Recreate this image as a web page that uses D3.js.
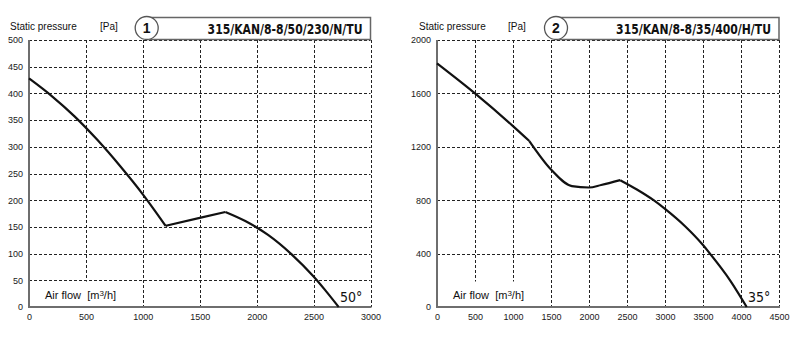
<!DOCTYPE html>
<html><head><meta charset="utf-8">
<script src="https://cdn.jsdelivr.net/npm/d3@7"></script>
<style>html,body{margin:0;padding:0;background:#fff}svg{display:block}</style>
</head><body>
<svg id="chart" width="800" height="339"></svg>
<script>
// ---------- data ----------
const flow1 = [0, 200, 400, 600, 800, 1000, 1100, 1200, 1500, 1725, 1900, 2100, 2300, 2500, 2600, 2720];
const pressure1 = [428, 395, 357, 313, 264, 211, 182, 152, 167, 178, 161, 135, 100, 57, 32, 0];
const kinks1 = [1200, 1725];
const xTicks1 = [0, 500, 1000, 1500, 2000, 2500, 3000];
const yTicks1 = [0, 50, 100, 150, 200, 250, 300, 350, 400, 450, 500];

const flow2 = [0, 500, 1000, 1215, 1500, 1775, 2000, 2160, 2410, 2630, 2850, 3000, 3264, 3500, 3580, 3856, 4075];
const pressure2 = [1825, 1600, 1355, 1243, 1030, 905, 895, 914, 950, 880, 800, 735, 605, 464, 408, 200, 0];
const kinks2 = [1215, 2410];
const xTicks2 = [0, 500, 1000, 1500, 2000, 2500, 3000, 3500, 4000, 4500];
const yTicks2 = [0, 400, 800, 1200, 1600, 2000];

const titles = ["315/KAN/8-8/50/230/N/TU", "315/KAN/8-8/35/400/H/TU"];
const numbers = ["1", "2"];
const angles = ["50°", "35°"];

// ---------- drawing ----------
const svg = d3.select("#chart");
const panels = [
  {flow: flow1, pres: pressure1, kinks: kinks1, xt: xTicks1, yt: yTicks1, x0: 29, x1: 370.5, left: 0},
  {flow: flow2, pres: pressure2, kinks: kinks2, xt: xTicks2, yt: yTicks2, x0: 437, x1: 779, left: 400}
];
const yTop = 40, yBot = 307;
const font = "'Liberation Sans', Arial, sans-serif";
const condensed = "'DejaVu Sans Condensed', 'Liberation Sans', sans-serif";

panels.forEach((p, i) => {
  const g = svg.append("g");
  const x = d3.scaleLinear().domain([p.xt[0], p.xt[p.xt.length - 1]]).range([p.x0, p.x1]);
  const y = d3.scaleLinear().domain([p.yt[0], p.yt[p.yt.length - 1]]).range([yBot, yTop]);

  // grid
  const grid = g.append("g").attr("stroke", "#222").attr("stroke-width", 1).attr("stroke-dasharray", "3,2").attr("fill", "none");
  p.yt.slice(1).forEach(v => {
    grid.append("line").attr("x1", p.x0).attr("x2", p.x1).attr("y1", Math.round(y(v)) + 0.5).attr("y2", Math.round(y(v)) + 0.5);
  });
  p.xt.slice(1).forEach(v => {
    grid.append("line").attr("x1", Math.round(x(v)) + 0.5).attr("x2", Math.round(x(v)) + 0.5).attr("y1", yTop).attr("y2", yBot);
  });

  // axis-label background
  g.append("rect").attr("x", p.x0 + 2).attr("y", 281.5).attr("width", i === 0 ? 104 : 100).attr("height", 24.5).attr("fill", "#fff");

  // axes
  const axX = d3.axisBottom(x).tickValues(p.xt).tickSize(0).tickPadding(7).tickFormat(d3.format("d"));
  const axY = d3.axisLeft(y).tickValues(p.yt).tickSize(0).tickPadding(6).tickFormat(d3.format("d"));
  const gx = g.append("g").attr("transform", `translate(0,${yBot})`).call(axX);
  const gy = g.append("g").attr("transform", `translate(${p.x0},0)`).call(axY);
  [gx, gy].forEach(a => {
    a.select(".domain").attr("stroke", "#6e6e6e").attr("stroke-width", 2);
    a.selectAll("text").attr("font-family", font).attr("font-size", 9).attr("fill", "#1a1a1a");
  });
  gx.select(".domain").attr("d", `M${p.x0 - 1},0H${p.x1 + 1}`);
  gy.select(".domain").attr("d", `M0,${yBot}V${yTop}`);

  // curve, split at kink points
  const pts = p.flow.map((f, k) => [f, p.pres[k]]);
  const cuts = [0, ...p.kinks.map(k => p.flow.indexOf(k)), pts.length - 1];
  const line = d3.line().x(d => x(d[0])).y(d => y(d[1])).curve(d3.curveMonotoneX);
  for (let s = 0; s < cuts.length - 1; s++) {
    g.append("path").datum(pts.slice(cuts[s], cuts[s + 1] + 1)).attr("d", line)
      .attr("fill", "none").attr("stroke", "#111").attr("stroke-width", 2.2).attr("stroke-linejoin", "round");
  }

  // title box
  const cx = i === 0 ? 146.7 : 556;
  g.append("path").attr("d", `M${cx},17.5H${p.x1}V39.5H${cx}`).attr("fill", "#fff").attr("stroke", "#666").attr("stroke-width", 1.5);
  g.append("circle").attr("cx", cx).attr("cy", 28).attr("r", 11.5).attr("fill", "#fff").attr("stroke", "#555").attr("stroke-width", 1.3);
  g.append("text").attr("x", cx).attr("y", 33).attr("text-anchor", "middle").attr("font-family", font)
    .attr("font-weight", "bold").attr("font-size", 14).attr("fill", "#111").text(numbers[i]);
  const tg = g.append("g");
  const tt = tg.append("text").attr("x", 0).attr("y", 0).attr("text-anchor", "end")
    .attr("font-family", condensed).attr("font-weight", "bold").attr("font-size", 14.5).attr("fill", "#111")
    .text(titles[i]);
  const natural = tt.node().getComputedTextLength();
  tg.attr("transform", `translate(${p.x1 - 8},33.5) scale(${155 / natural},1)`);

  // labels
  g.append("text").attr("x", p.left + (i === 0 ? 10 : 19)).attr("y", 29.5).attr("font-family", font).attr("font-size", 10).attr("fill", "#111").text("Static pressure");
  g.append("text").attr("x", p.left + (i === 0 ? 100 : 108)).attr("y", 29.5).attr("font-family", font).attr("font-size", 10).attr("fill", "#111").text("[Pa]");
  const af = g.append("text").attr("x", p.x0 + 16).attr("y", 299).attr("font-family", font).attr("font-size", 11)
    .attr("fill", "#111").style("white-space", "pre");
  af.append("tspan").text("Air flow  [m");
  af.append("tspan").attr("font-size", 8).attr("dy", -3).text("3");
  af.append("tspan").attr("dy", 3).text("/h]");
  g.append("text").attr("x", i === 0 ? 340 : 748).attr("y", 302)
    .attr("font-family", condensed).attr("font-size", 14).attr("fill", "#111").text(angles[i]);
});
</script>
</body></html>
